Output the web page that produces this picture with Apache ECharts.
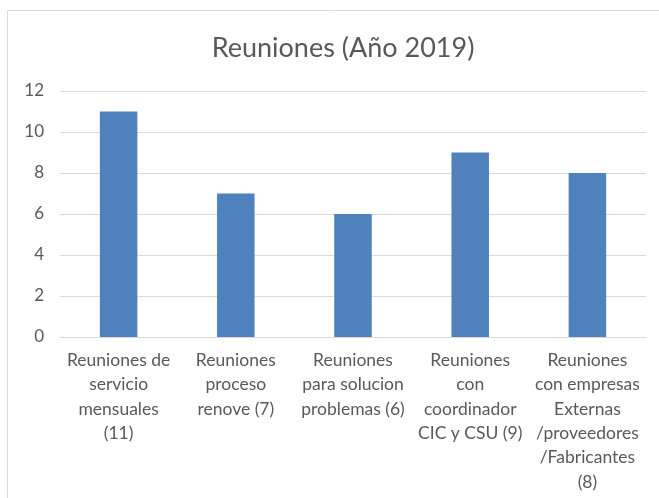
<!DOCTYPE html>
<html>
<head>
<meta charset="utf-8">
<script src="https://cdn.jsdelivr.net/npm/echarts@6/dist/echarts.min.js"></script>
<style>
  html, body { margin: 0; padding: 0; background: #fff; }
  #chart { width: 659px; height: 498px; }
</style>
</head>
<body>
<div id="chart"></div>
<script>
var titleText = 'Reuniones (Año 2019)';
var categories = [
  'Reuniones de\nservicio\nmensuales\n(11)',
  'Reuniones\nproceso\nrenove (7)',
  'Reuniones\npara solucion\nproblemas (6)',
  'Reuniones\ncon\ncoordinador\nCIC y CSU (9)',
  'Reuniones\ncon empresas\nExternas\n/proveedores\n/Fabricantes\n(8)'
];
var values = [11, 7, 6, 9, 8];
var yTicks = [0, 2, 4, 6, 8, 10, 12];

var chart = echarts.init(document.getElementById('chart'));
var font = 'Lato, "Open Sans", sans-serif';
chart.setOption({
  animation: false,
  graphic: [{
    type: 'rect',
    shape: { x: 7.5, y: 10.5, width: 700, height: 600 },
    style: { fill: 'none', stroke: '#d9d9d9', lineWidth: 1 },
    silent: true
  }],
  title: {
    text: titleText,
    left: 338,
    textAlign: 'center',
    top: 30,
    textStyle: { fontFamily: font, fontSize: 27, fontWeight: 'normal', color: '#595959' }
  },
  grid: { left: 60, right: 13, top: 91, bottom: 161, containLabel: false },
  xAxis: {
    type: 'category',
    data: categories,
    axisLine: { lineStyle: { color: '#d9d9d9' } },
    axisTick: { show: false },
    axisLabel: {
      interval: 0,
      margin: 11,
      lineHeight: 24.4,
      fontFamily: font,
      fontSize: 17.5,
      color: '#595959'
    }
  },
  yAxis: {
    type: 'value',
    min: yTicks[0],
    max: yTicks[yTicks.length - 1],
    interval: 2,
    axisLine: { show: false },
    axisTick: { show: false },
    splitLine: { lineStyle: { color: '#d9d9d9' } },
    axisLabel: { margin: 16, fontFamily: font, fontSize: 17, color: '#595959' }
  },
  series: [{
    type: 'bar',
    data: values,
    barWidth: '32%',
    itemStyle: { color: '#4f81bd' }
  }]
});
</script>
</body>
</html>
